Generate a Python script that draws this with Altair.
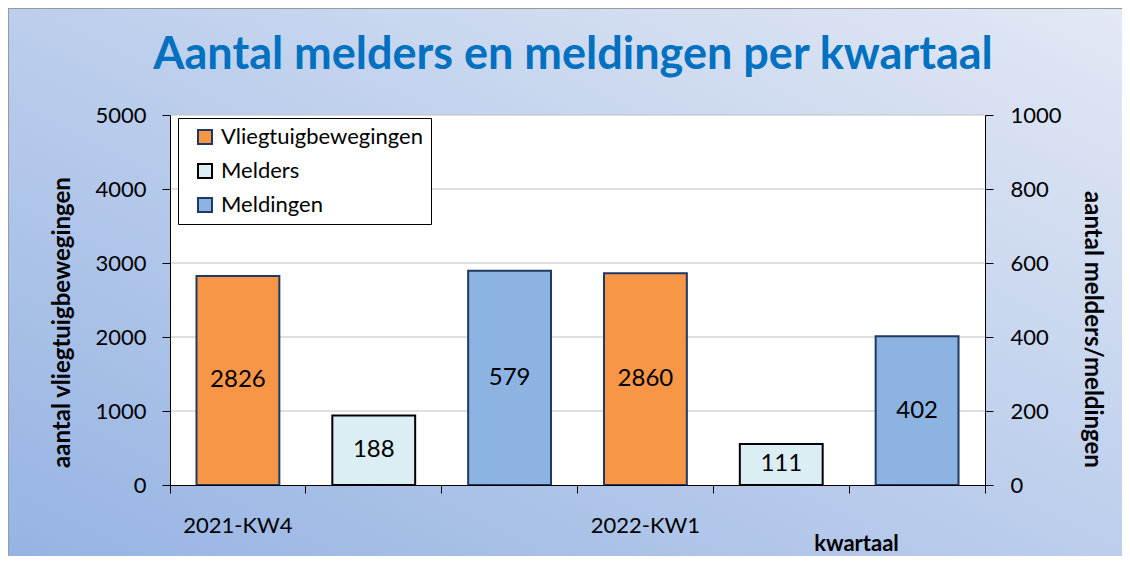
import altair as alt
import pandas as pd

# ---- data ----
quarters = ["2021-KW4", "2022-KW1"]
series = ["Vliegtuigbewegingen", "Melders", "Meldingen"]
vliegtuigbewegingen = [2826, 2860]   # left axis
melders = [188, 111]                 # right axis
meldingen = [579, 402]               # right axis
left_ticks = [0, 1000, 2000, 3000, 4000, 5000]
right_ticks = [0, 200, 400, 600, 800, 1000]

fills = ["#f79646", "#dbeef4", "#8db3e2"]
strokes = ["#1f3864", "#000000", "#1f3864"]

rows = []
for i, q in enumerate(quarters):
    for s, vals in zip(series, [vliegtuigbewegingen, melders, meldingen]):
        rows.append({"kwartaal": q, "series": s, "slot": f"{q}|{s}", "value": vals[i]})
df = pd.DataFrame(rows)
slots = list(df["slot"])
grid_df = pd.DataFrame({"v": left_ticks[1:]})

W, H = 815, 370
PAD = {"left": 162, "top": 107, "right": 137, "bottom": 71}
FONT = "Lato"


def xscale():
    return alt.Scale(type="band", domain=slots, paddingInner=0, paddingOuter=0)


def lscale():
    return alt.Scale(domain=[0, 5000], nice=False)


def rscale():
    return alt.Scale(domain=[0, 1000], nice=False)


legend = alt.Legend(
    title=None, orient="none", legendX=8, legendY=3,
    fillColor="white", strokeColor="black", cornerRadius=0,
    padding=8, symbolOffset=8, symbolType="square", symbolSize=196,
    symbolStrokeWidth=2, labelFont=FONT, labelFontSize=22, labelColor="black",
    labelOffset=5, rowPadding=12, labelLimit=400,
)
color = alt.Color("series:N", scale=alt.Scale(domain=series, range=fills), legend=legend)
stroke = alt.Stroke("series:N", scale=alt.Scale(domain=series, range=strokes), legend=legend)

tick_axis = alt.Axis(
    title=None, labels=False, ticks=True, tickSize=8, tickColor="black", tickWidth=1,
    domain=True, domainColor="black", domainWidth=1, bandPosition=1, tickExtra=True,
    grid=False, zindex=1, orient="bottom",
)
label_axis = alt.Axis(
    title="kwartaal", ticks=False, domain=False, labelPadding=30, labelFontSize=22,
    labelColor="black", labelFont=FONT, labelAngle=0, orient="bottom",
    labelExpr="split(datum.value, '|')[1] == 'Vliegtuigbewegingen' ? split(datum.value, '|')[0] : ''",
    titleFont=FONT, titleFontSize=22, titleFontWeight="bold", titleColor="black",
    titleX=686, titleY=65, titleBaseline="alphabetic", grid=False, zindex=1,
)
left_axis = alt.Axis(
    values=left_ticks, format="d", title="aantal vliegtuigbewegingen", orient="left",
    tickSize=8, tickColor="black", domainColor="black", labelFont=FONT,
    labelFontSize=22, labelColor="black", labelPadding=16, titleFont=FONT,
    titleFontSize=24, titleFontWeight="bold", titleColor="black", titlePadding=20,
    titleY=207, grid=False, zindex=1,
)
right_axis = alt.Axis(
    values=right_ticks, format="d", title="aantal melders/meldingen", orient="right",
    tickSize=8, tickColor="black", domainColor="black", labelFont=FONT,
    labelFontSize=22, labelColor="black", labelPadding=17, titleFont=FONT,
    titleFontSize=24, titleFontWeight="bold", titleColor="black", titlePadding=18,
    titleY=214, grid=False, zindex=1,
)

gradient = alt.LinearGradient(
    gradient="linear",
    stops=[alt.GradientStop(color="#95b3e3", offset=0),
           alt.GradientStop(color="#e3e9f5", offset=1)],
    x1=0, y1=1, x2=1, y2=0,
)

one = pd.DataFrame({"a": [0]})
bg = alt.Chart(one).mark_rect(fill=gradient, stroke="#9a9a9a", strokeWidth=2).encode(
    x=alt.value(-PAD["left"]), x2=alt.value(W + PAD["right"] + 10),
    y=alt.value(-PAD["top"]), y2=alt.value(H + PAD["bottom"] + 10),
)
plot_bg = alt.Chart(one).mark_rect(fill="white").encode(
    x=alt.value(0), x2=alt.value(W), y=alt.value(0), y2=alt.value(H)
)
title_txt = alt.Chart(one).mark_text(
    text="Aantal melders en meldingen per kwartaal", font=FONT, fontSize=45,
    fontWeight="bold", color="#0070c0", align="center", baseline="alphabetic",
).encode(x=alt.value(403), y=alt.value(-46))

grid = alt.Chart(grid_df).mark_rule(color="#c0c0c0", strokeWidth=1).encode(
    y=alt.Y("v:Q", scale=lscale(), axis=None)
)

base = alt.Chart(df)
left_data = base.transform_filter(alt.datum.series == series[0])
right_data = base.transform_filter(alt.datum.series != series[0])

left_bars = left_data.mark_bar(width=alt.RelativeBandSize(0.61), strokeWidth=2).encode(
    x=alt.X("slot:N", scale=xscale(), axis=tick_axis),
    y=alt.Y("value:Q", scale=lscale(), axis=left_axis),
    color=color, stroke=stroke,
)
left_text = left_data.transform_calculate(mid="datum.value / 2").mark_text(
    font=FONT, fontSize=24, color="black", baseline="middle"
).encode(
    x=alt.X("slot:N", scale=xscale(), axis=None),
    y=alt.Y("mid:Q", scale=lscale(), axis=None),
    text="value:Q",
)
right_bars = right_data.mark_bar(width=alt.RelativeBandSize(0.61), strokeWidth=2).encode(
    x=alt.X("slot:N", scale=xscale(), axis=label_axis),
    y=alt.Y("value:Q", scale=rscale(), axis=right_axis),
    color=color, stroke=stroke,
)
right_text = right_data.transform_calculate(mid="datum.value / 2").mark_text(
    font=FONT, fontSize=24, color="black", baseline="middle"
).encode(
    x=alt.X("slot:N", scale=xscale(), axis=None),
    y=alt.Y("mid:Q", scale=rscale(), axis=None),
    text="value:Q",
)

chart = (
    alt.layer(bg, plot_bg, title_txt, grid, left_bars, left_text, right_bars, right_text)
    .resolve_scale(y="independent")
    .resolve_axis(x="independent", y="independent")
    .properties(
        width=W, height=H, padding=PAD,
        autosize=alt.AutoSizeParams(type="none"),
    )
    .configure_view(stroke=None)
)

chart.save("out.html", embed_options={"renderer": "svg", "actions": False})
